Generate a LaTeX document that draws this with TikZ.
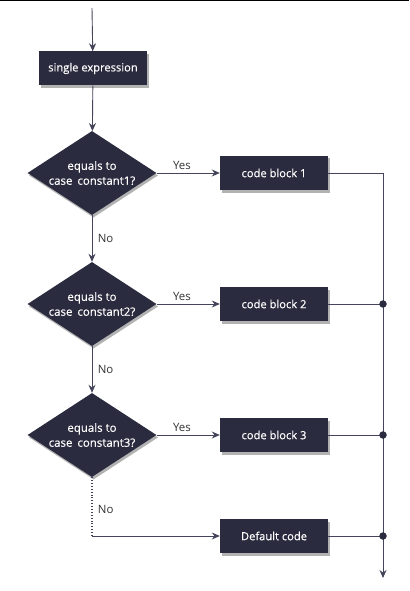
\documentclass[tikz,border=0pt]{standalone}
\usepackage{fontspec}
\setmainfont{Open Sans}
\newfontfamily\boxfont[FakeBold=0.4]{Open Sans}
\usetikzlibrary{shapes.geometric,arrows.meta,shadows}

\definecolor{boxnavy}{HTML}{2B2B3F}
\definecolor{wire}{HTML}{44445A}

\tikzset{
  block/.style={rectangle, fill=boxnavy, text=white, inner sep=0pt,
    minimum width=108bp, minimum height=34bp,
    font=\boxfont\fontsize{11.2}{12}\selectfont,
    drop shadow={shadow xshift=1.5bp, shadow yshift=-2.5bp, opacity=.3, fill=black}},
  decision/.style={diamond, aspect=1.55, fill=boxnavy, text=white, inner sep=0pt, align=center,
    minimum width=129bp, minimum height=84bp,
    font=\boxfont\fontsize{11.5}{15}\selectfont,
    drop shadow={shadow xshift=1.5bp, shadow yshift=-2.5bp, opacity=.3, fill=black}},
  flow/.style={draw=wire, line width=.9bp, -{Stealth[length=8bp, width=7bp]}},
  wireline/.style={draw=wire, line width=.9bp},
  answer/.style={font=\fontsize{11.5}{12}\selectfont, text=black!80},
  joint/.style={circle, fill=boxnavy, inner sep=0pt, minimum size=7.5bp}
}

\begin{document}
\begin{tikzpicture}[x=1bp, y=-1bp]
\useasboundingbox (0,0) rectangle (409,591);
\draw[line width=1.5bp] (0,0.5) -- (409,0.5);

% start and blocks
\coordinate (start) at (92,8);
\node[block] (expr) at (93,68.5) {single expression};

\foreach[count=\i] \y in {173,304,435}{
  \node[decision] (case\i) at (92,\y) {equals to\\case\hspace{5bp}constant\i?};
  \node[block] (code\i) at (274,\y) {code block \i};
}
\node[block] (default) at (274,536) {Default code};
\coordinate (end) at (383,578);
\coordinate (corner) at (92,536);

% arrows
\draw[flow] (start) -- (expr);
\draw[flow] (expr) -- (case1);
\foreach \i in {1,2,3}
  \draw[flow] (case\i) -- node[answer, above, pos=.4]{Yes} (code\i);
\foreach \i [remember=\i as \prev (initially 1)] in {2,3}
  \draw[flow] (case\prev) -- node[answer, right, xshift=2bp]{No} (case\i);

\draw[wireline, dotted, line width=1.1bp] (case3.south) -- node[answer, right, xshift=2bp, pos=.55]{No} (corner);
\draw[flow] (corner) -- (default);

% merge line
\draw[flow] (code1.east) -| (end);
\foreach \n in {code2, code3, default}{
  \draw[wireline] (\n.east) -- (\n.east -| end);
  \node[joint] at (\n.east -| end) {};
}
\end{tikzpicture}
\end{document}
